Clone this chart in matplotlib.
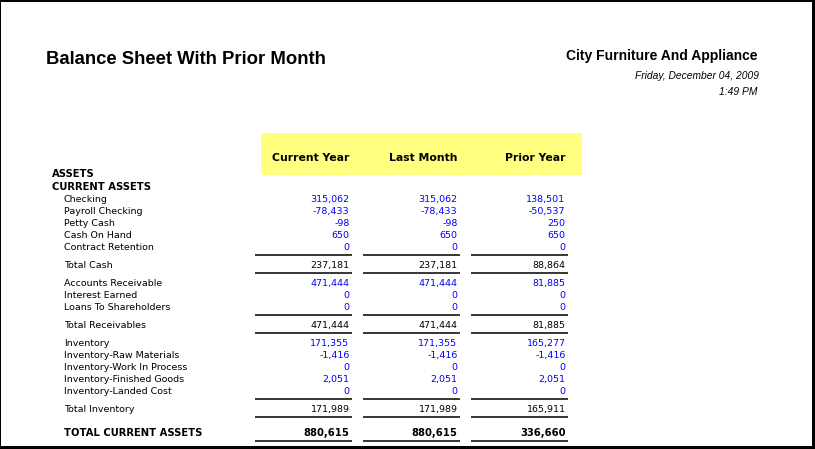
import matplotlib.pyplot as plt
from matplotlib.patches import Rectangle

# report header text
title = "Balance Sheet With Prior Month"
company = "City Furniture And Appliance"
report_date = "Friday, December 04, 2009"
report_time = "1:49 PM"
col_headers = ["Current Year", "Last Month", "Prior Year"]

# cash
cash_labels = ["Checking", "Payroll Checking", "Petty Cash", "Cash On Hand", "Contract Retention"]
cash_current = [315062, -78433, -98, 650, 0]
cash_last = [315062, -78433, -98, 650, 0]
cash_prior = [138501, -50537, 250, 650, 0]
cash_total = [237181, 237181, 88864]

# receivables
recv_labels = ["Accounts Receivable", "Interest Earned", "Loans To Shareholders"]
recv_current = [471444, 0, 0]
recv_last = [471444, 0, 0]
recv_prior = [81885, 0, 0]
recv_total = [471444, 471444, 81885]

# inventory
inv_labels = ["Inventory", "Inventory-Raw Materials", "Inventory-Work In Process",
              "Inventory-Finished Goods", "Inventory-Landed Cost"]
inv_current = [171355, -1416, 0, 2051, 0]
inv_last = [171355, -1416, 0, 2051, 0]
inv_prior = [165277, -1416, 0, 2051, 0]
inv_total = [171989, 171989, 165911]

grand_label = "TOTAL CURRENT ASSETS"
grand_total = [880615, 880615, 336660]

groups = [
    ("Total Cash", cash_labels, [cash_current, cash_last, cash_prior], cash_total),
    ("Total Receivables", recv_labels, [recv_current, recv_last, recv_prior], recv_total),
    ("Total Inventory", inv_labels, [inv_current, inv_last, inv_prior], inv_total),
]

fig = plt.figure(figsize=(8.15, 4.49), dpi=100)
ax = fig.add_axes([0, 0, 1, 1])
ax.set_xlim(0, 815)
ax.set_ylim(449, 0)
ax.axis("off")

# window frame
for r in [(0, 0, 815, 2), (0, 0, 1, 449), (812, 0, 3, 449), (0, 446, 815, 3)]:
    ax.add_patch(Rectangle((r[0], r[1]), r[2], r[3], color="black", lw=0))

# header
ax.text(46, 64.5, title, fontsize=13.3, fontweight="bold", family="Liberation Sans",
        ha="left", va="baseline")
ax.text(757, 60, company, fontsize=10, fontweight="bold", family="Liberation Sans",
        ha="right", va="baseline")
ax.text(759, 79, report_date, fontsize=7.4, style="italic", family="Liberation Sans",
        ha="right", va="baseline")
ax.text(757, 95, report_time, fontsize=7.4, style="italic", family="Liberation Sans",
        ha="right", va="baseline")

# yellow column header band
ax.add_patch(Rectangle((261, 133), 321, 41.5, color="#FFFF80", lw=0))
col_right = [349.5, 457.5, 565.5]
col_line = [(255, 352), (363, 460), (471, 568)]
for x, h in zip(col_right, col_headers):
    ax.text(x, 161, h, fontsize=7.8, fontweight="bold", ha="right", va="baseline")

lab_fs = 6.8
ax.text(52, 177, "ASSETS", fontsize=7.2, fontweight="bold", va="baseline")
ax.text(52, 189.5, "CURRENT ASSETS", fontsize=7.2, fontweight="bold", va="baseline")


def hline(y):
    for x0, x1 in col_line:
        ax.plot([x0, x1], [y, y], color="black", lw=1.1, solid_capstyle="butt")


y = 202
for total_label, labels, cols, totals in groups:
    for i, lab in enumerate(labels):
        ax.text(64, y, lab, fontsize=lab_fs, va="baseline")
        for x, col in zip(col_right, cols):
            ax.text(x, y, f"{col[i]:,}", fontsize=lab_fs, color="#0000FF",
                    ha="right", va="baseline")
        y += 12
    hline(y - 7.5)
    y += 6
    ax.text(64, y, total_label, fontsize=lab_fs, va="baseline")
    for x, v in zip(col_right, totals):
        ax.text(x, y, f"{v:,}", fontsize=lab_fs, ha="right", va="baseline")
    hline(y + 4.5)
    y += 18

y += 6
ax.text(64, y, grand_label, fontsize=7.2, fontweight="bold", va="baseline")
for x, v in zip(col_right, grand_total):
    ax.text(x, y, f"{v:,}", fontsize=7.2, fontweight="bold", ha="right", va="baseline")
hline(y + 5)

fig.savefig("out.png", dpi=100)
